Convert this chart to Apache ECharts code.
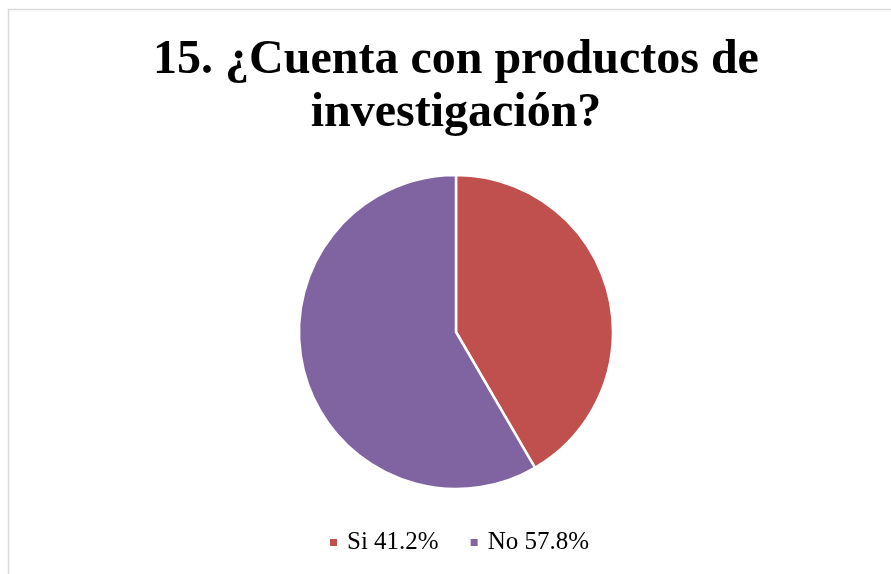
<!DOCTYPE html>
<html><head><meta charset="utf-8">
<script src="https://cdn.jsdelivr.net/npm/echarts@6/dist/echarts.min.js"></script>
<style>html,body{margin:0;padding:0;background:#fff}#c{width:891px;height:574px}</style>
</head><body><div id="c"></div>
<script>
const titleText = '15. ¿Cuenta con productos de\ninvestigación?';
const categories = ['Si', 'No'];
const values = [41.2, 57.8];
const colors = ['#C0504D', '#8064A2'];

const chart = echarts.init(document.getElementById('c'));
chart.setOption({
  animation: false,
  backgroundColor: '#fff',
  graphic: [{
    type: 'rect', silent: true,
    shape: { x: 8.5, y: 9.5, width: 1000, height: 1000 },
    style: { fill: 'none', stroke: '#d9d9d9', lineWidth: 1.5 }
  }],
  title: {
    text: titleText,
    left: 456, top: 34, textAlign: 'center',
    padding: 0,
    textStyle: { fontFamily: 'Liberation Serif', fontWeight: 'bold', fontSize: 48, lineHeight: 53, color: '#000' }
  },
  legend: {
    top: 530, left: 328, padding: 0,
    icon: 'rect', itemWidth: 9, itemHeight: 9, itemGap: 30,
    data: categories,
    formatter: function (n) { return n + ' ' + values[categories.indexOf(n)].toFixed(1) + '%'; },
    textStyle: { fontFamily: 'Liberation Serif', fontSize: 25, color: '#000', padding: [0,0,0,4] }
  },
  series: [{
    type: 'pie',
    center: [456, 332], radius: 157,
    startAngle: 90, clockwise: true,
    label: { show: false }, labelLine: { show: false },
    itemStyle: { borderColor: '#fff', borderWidth: 2.5 },
    data: categories.map((c, i) => ({ name: c, value: values[i], itemStyle: { color: colors[i] } }))
  }]
});
</script></body></html>
